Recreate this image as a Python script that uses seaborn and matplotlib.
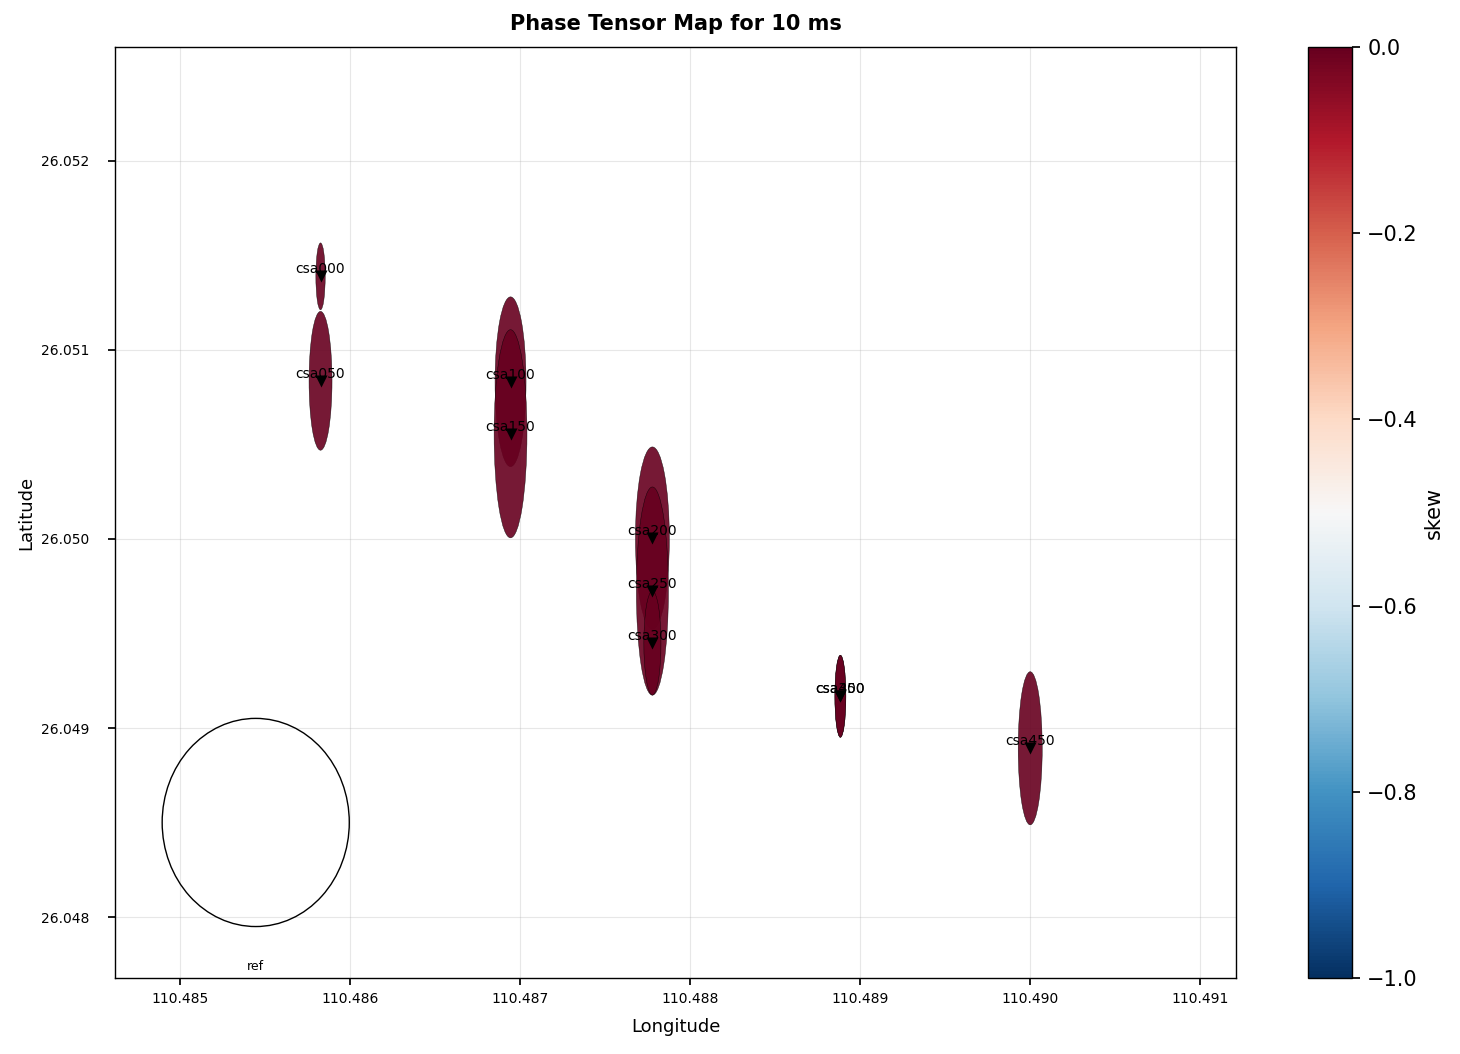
import numpy as np
import pandas as pd
import matplotlib
matplotlib.use("Agg")
import matplotlib.pyplot as plt
import seaborn as sns
from matplotlib.patches import Ellipse
from matplotlib.ticker import MultipleLocator, FormatStrFormatter


STATIONS = ["csa000", "csa050", "csa100", "csa150", "csa200",
            "csa250", "csa300", "csa350", "csa400", "csa450"]
LON = [110.485828, 110.485828, 110.486945, 110.486945, 110.487779,
       110.487779, 110.487779, 110.488884, 110.488884, 110.490000]
LAT = [26.051388, 26.050836, 26.050831, 26.050556, 26.050005,
       26.049725, 26.049450, 26.049169, 26.049169, 26.048894]
PHIMAX = [22.5, 46.7, 57.1, 70.0, 61.3, 70.0, 35.0, 27.6, 27.6, 51.5]
PHIMIN = [3.5, 8.6, 11.6, 12.3, 12.7, 12.0, 6.4, 4.1, 4.1, 9.0]
AZIMUTH = [0.0, 0.0, 0.0, 0.0, 0.0, 0.0, 0.0, 0.0, 0.0, 0.0]
SKEW = [0.0, 0.0, 0.0, 0.0, 0.0, 0.0, 0.0, 0.0, 0.0, 0.0]

PERIOD_MS = 10
ELL_SIZE = 0.0011          # degrees, size of the largest ellipse
REF_LON, REF_LAT = 110.485447, 26.048502
SKEW_MIN, SKEW_MAX = -1.0, 0.0

df = pd.DataFrame({"station": STATIONS, "lon": LON, "lat": LAT,
                   "phimax": PHIMAX, "phimin": PHIMIN,
                   "azimuth": AZIMUTH, "skew": SKEW})


def main():
    sns.set_theme(style="ticks", rc={
        "axes.edgecolor": "black", "axes.linewidth": 1.0,
        "xtick.major.size": 5, "ytick.major.size": 5,
        "xtick.major.pad": 5, "ytick.major.pad": 13.5,
        "xtick.color": "black", "ytick.color": "black",
        "xtick.labelsize": 10, "ytick.labelsize": 10,
        "axes.labelsize": 13, "axes.labelcolor": "black",
        "text.color": "black",
    })
    plt.rcParams["font.family"] = ["DejaVu Sans"]

    fig = plt.figure(figsize=(14.6, 10.54), dpi=100)
    ax = fig.add_axes([0.0788, 0.0721, 0.7678, 0.8833])
    cax = fig.add_axes([0.8959, 0.0721, 0.0301, 0.8833])

    cmap = sns.color_palette("RdBu_r", as_cmap=True)
    norm = plt.Normalize(SKEW_MIN, SKEW_MAX)
    scale = ELL_SIZE / df["phimax"].max()

    for _, r in df.iterrows():
        e = Ellipse((r["lon"], r["lat"]),
                    width=r["phimin"] * scale, height=r["phimax"] * scale,
                    angle=r["azimuth"], facecolor=cmap(norm(r["skew"])),
                    edgecolor="black", linewidth=0.3, alpha=0.9, zorder=2)
        ax.add_patch(e)

    sns.scatterplot(data=df, x="lon", y="lat", marker="v", color="black",
                    s=75, edgecolor="black", linewidth=0, ax=ax, zorder=5,
                    legend=False)
    for _, r in df.iterrows():
        ax.text(r["lon"], r["lat"], r["station"], ha="center", va="bottom",
                fontsize=10, zorder=4)

    ref = Ellipse((REF_LON, REF_LAT), width=ELL_SIZE, height=ELL_SIZE,
                  facecolor="none", edgecolor="black", linewidth=1.0,
                  zorder=3)
    ax.add_patch(ref)
    ax.text(REF_LON, REF_LAT - ELL_SIZE * 0.69, "ref", ha="center",
            va="center", fontsize=9)

    ax.set_xlim(110.48462, 110.49121)
    ax.set_ylim(26.04768, 26.05260)
    ax.xaxis.set_major_locator(MultipleLocator(0.001))
    ax.yaxis.set_major_locator(MultipleLocator(0.001))
    ax.xaxis.set_major_formatter(FormatStrFormatter("%.3f"))
    ax.yaxis.set_major_formatter(FormatStrFormatter("%.3f"))
    ax.grid(True, color="#b0b0b0", alpha=0.3, linewidth=0.8)
    ax.set_axisbelow(True)
    ax.set_xlabel("Longitude", labelpad=9)
    ax.set_ylabel("Latitude")
    ax.set_title(f"Phase Tensor Map for {PERIOD_MS} ms", fontsize=15,
                 fontweight="bold", pad=12)

    sm = plt.cm.ScalarMappable(cmap=cmap, norm=norm)
    cb = fig.colorbar(sm, cax=cax)
    cb.set_label("skew", fontsize=15)
    cb.ax.tick_params(labelsize=15, length=6, pad=5)
    cb.outline.set_edgecolor("black")

    plt.savefig("out.png", dpi=100)
    plt.close()


if __name__ == "__main__":
    main()
